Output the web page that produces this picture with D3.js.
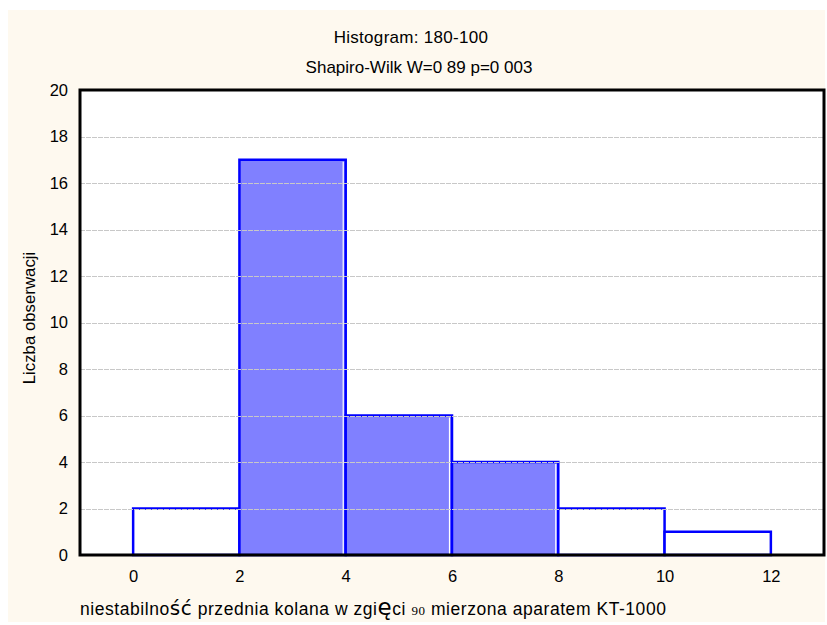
<!DOCTYPE html>
<html><head><meta charset="utf-8">
<script src="https://cdn.jsdelivr.net/npm/d3@7"></script>
<style>html,body{margin:0;padding:0;background:#fff}</style>
</head><body>
<script>
const binStarts = [0, 2, 4, 6, 8, 10];
const binEnds = [2, 4, 6, 8, 10, 12];
const counts = [2, 17, 6, 4, 2, 1];
const filled = [false, true, true, true, false, false];
const xTicks = [0, 2, 4, 6, 8, 10, 12];
const yTicks = [0, 2, 4, 6, 8, 10, 12, 14, 16, 18, 20];
const title1 = "Histogram: 180-100";
const title2 = "Shapiro-Wilk W=0 89 p=0 003";
const yLabel = "Liczba obserwacji";

const W = 827, H = 625;
const FF = "'Liberation Sans', Arial, sans-serif";
const svg = d3.select("body").append("svg").attr("width", W).attr("height", H)
  .style("font-family", FF);
svg.append("rect").attr("x", 8).attr("y", 10).attr("width", 817).attr("height", 612).attr("fill", "#fef9ef");

const L = 80, R = 824, T = 90, B = 555;
const x = d3.scaleLinear().domain([-1, 13]).range([L, R]);
const y = d3.scaleLinear().domain([0, 20]).range([B, T]);

svg.append("rect").attr("x", L).attr("y", T).attr("width", R - L).attr("height", B - T).attr("fill", "#fff");

const data = binStarts.map((s, i) => ({s, e: binEnds[i], c: counts[i], f: filled[i]}));
const g = svg.append("g");
g.selectAll("rect.bar").data(data).join("rect").attr("class", "bar")
  .attr("x", d => x(d.s)).attr("y", d => y(d.c))
  .attr("width", d => x(d.e) - x(d.s)).attr("height", d => y(0) - y(d.c))
  .attr("fill", d => d.f ? "#8080ff" : "#fff")
  .attr("stroke", "#0000ff").attr("stroke-width", 2.5);
g.selectAll("line.hl").data(data.filter(d => d.f)).join("line").attr("class", "hl")
  .attr("x1", d => x(d.e) - 2.5).attr("x2", d => x(d.e) - 2.5)
  .attr("y1", d => y(d.c) + 2).attr("y2", y(0))
  .attr("stroke", "#fff").attr("stroke-width", 1.2);

// grid lines
svg.append("g").selectAll("line").data(yTicks.filter(v => v > 0 && v < 20)).join("line")
  .attr("x1", L).attr("x2", R).attr("y1", d => Math.round(y(d)) + 0.5).attr("y2", d => Math.round(y(d)) + 0.5)
  .attr("stroke", "#c8c8c8").attr("stroke-width", 1).attr("stroke-dasharray", "5,1");

// frame
svg.append("rect").attr("x", L).attr("y", T).attr("width", R - L).attr("height", B - T)
  .attr("fill", "none").attr("stroke", "#000").attr("stroke-width", 3);

// axes
const yAxis = d3.axisLeft(y).tickValues(yTicks).tickSize(0).tickPadding(12);
const ya = svg.append("g").attr("transform", `translate(${L},0)`).call(yAxis);
ya.select(".domain").remove();
ya.selectAll("text").attr("font-size", 16.5).attr("fill", "#000").style("font-family", FF);

const xAxis = d3.axisBottom(x).tickValues(xTicks).tickSize(0).tickPadding(15);
const xa = svg.append("g").attr("transform", `translate(0,${B})`).call(xAxis);
xa.select(".domain").remove();
xa.selectAll("text").attr("font-size", 16.5).attr("fill", "#000").style("font-family", FF);

// titles
svg.append("text").attr("x", 411).attr("y", 43).attr("text-anchor", "middle").attr("font-size", 17).attr("letter-spacing", 0.3).text(title1);
svg.append("text").attr("x", 419).attr("y", 73).attr("text-anchor", "middle").attr("font-size", 17).text(title2);

svg.append("text").attr("transform", "translate(35,318) rotate(-90)").attr("text-anchor", "middle")
  .attr("font-size", 16.8).text(yLabel);

const xl = svg.append("text").attr("x", 80).attr("y", 615).attr("font-size", 17.5).attr("letter-spacing", 0.55);
xl.append("tspan").text("niestabilno");
xl.append("tspan").attr("font-size", 20).style("font-family", "'DejaVu Sans', sans-serif").text("ść");
xl.append("tspan").text(" przednia kolana w zgi");
xl.append("tspan").attr("font-size", 23).style("font-family", "'DejaVu Sans', sans-serif").text("ę");
xl.append("tspan").text("ci ");
xl.append("tspan").attr("font-size", 13).style("font-family", "'Liberation Serif', serif").text("90");
xl.append("tspan").text(" mierzona aparatem KT-1000");
</script>
</body></html>
